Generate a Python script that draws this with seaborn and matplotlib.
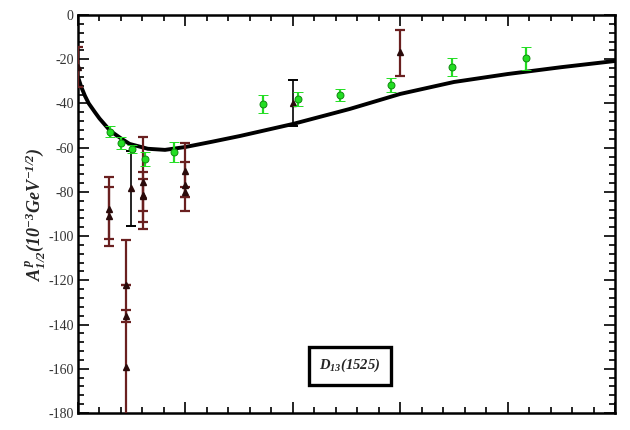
import matplotlib
matplotlib.use("Agg")
import matplotlib.pyplot as plt
import seaborn as sns
import pandas as pd
from matplotlib.ticker import MultipleLocator, NullFormatter

# ---- data ----
curve_x = [0.0, 0.03, 0.065, 0.1, 0.158, 0.2, 0.30, 0.40, 0.48, 0.65, 0.81, 1.0, 1.25, 1.51, 2.0, 2.53, 3.0, 3.5, 4.0, 4.5, 5.0]
curve_y = [-28, -32.5, -36.6, -40, -44, -46.8, -52.4, -55.8, -58.3, -60.5, -61, -59.7, -57.3, -54.7, -49.3, -42.5, -35.7, -30.3, -26.7, -23.6, -20.8]

green_x = [0.298, 0.40, 0.503, 0.624, 0.894, 1.72, 2.05, 2.44, 2.91, 3.48, 4.17]
green_y = [-52.9, -57.9, -60.6, -65.1, -62.0, -40.3, -38.0, -36.2, -31.7, -23.5, -19.5]
green_err = [2.5, 2.5, 2.0, 3.0, 4.7, 4.0, 3.2, 2.7, 3.1, 4.0, 5.2]

red_x = [0.0, 0.289, 0.289, 0.447, 0.447, 0.447, 0.605, 0.605, 0.605, 0.996, 0.996, 0.996, 3.0]
red_y = [-23.5, -87.8, -90.9, -159.2, -136.1, -122.3, -75.5, -81.9, -81.5, -70.6, -76.9, -80.0, -16.9]
red_err_lo = [9.0, 13.5, 13.6, 57.0, 2.8, 0.0, 21.3, 11.7, 7.2, 18.1, 5.4, 2.3, 10.5]
red_err_hi = [9.0, 10.0, 17.6, 57.4, 2.8, 0.0, 20.3, 10.9, 7.3, 12.7, 10.4, 2.3, 10.1]

black_x = [0.493, 2.0]
black_y = [-78.3, -39.6]
black_err = [17.0, 10.4]

y_ticks = [0, -20, -40, -60, -80, -100, -120, -140, -160, -180]

# ---- style ----
sns.set_theme(style="ticks")
plt.rcParams['font.family'] = ['Liberation Serif', 'DejaVu Serif']
plt.rcParams['axes.unicode_minus'] = False
plt.rcParams['mathtext.fontset'] = 'custom'
plt.rcParams['mathtext.rm'] = 'Liberation Serif:bold:italic'
plt.rcParams['mathtext.it'] = 'Liberation Serif:bold:italic'
plt.rcParams['mathtext.bf'] = 'Liberation Serif:bold:italic'

fig = plt.figure(figsize=(6.3, 4.3), dpi=100)
ax = fig.add_axes([78/630, 1-413/430, (615-78)/630, (413-15)/430])

green = '#22dd22'
maroon = '#6a2020'

df = pd.DataFrame({'x': curve_x, 'y': curve_y})
sns.lineplot(data=df, x='x', y='y', ax=ax, color='black', lw=2.8,
             estimator=None, sort=False, zorder=3)

ax.errorbar(red_x, red_y, yerr=[red_err_lo, red_err_hi], fmt='^', ms=4,
            color='#2a0a0a', ecolor=maroon, elinewidth=1.6, capsize=3.5,
            capthick=1.6, zorder=4)
ax.errorbar(black_x, black_y, yerr=black_err, fmt='^', ms=4,
            color='#2a0a0a', ecolor='black', elinewidth=1.2, capsize=3.5,
            capthick=1.4, zorder=4)
ax.errorbar(green_x, green_y, yerr=green_err, fmt='o', ms=5,
            color=green, mec='#118811', mew=0.7, ecolor=green,
            elinewidth=1.6, capsize=3.5, capthick=1.8, zorder=5)

ax.set_xlim(0, 5)
ax.set_ylim(-180, 0)
ax.xaxis.set_major_locator(MultipleLocator(1))
ax.xaxis.set_minor_locator(MultipleLocator(0.2))
ax.set_yticks(y_ticks)
ax.yaxis.set_minor_locator(MultipleLocator(4))
ax.xaxis.set_major_formatter(NullFormatter())
ax.tick_params(which='both', direction='in', top=True, right=True, width=1.2, colors='black')
ax.tick_params(which='major', length=8)
ax.tick_params(which='minor', length=4.5)
ax.tick_params(axis='y', labelsize=10, pad=3, labelcolor='#333333')
for s in ax.spines.values():
    s.set_linewidth(1.8)
    s.set_color('black')

ax.set_xlabel('')
ax.set_ylabel(r'$A^{p}_{1/2}(10^{-3}GeV^{-1/2})$', fontsize=13, labelpad=1)

ax.text(2.53, -158.6, r'$D_{13}(1525)$', fontsize=10.5, ha='center', va='center',
        zorder=6,
        bbox=dict(boxstyle='square,pad=0.7', fc='white', ec='black', lw=2.4))

fig.savefig('out.png', dpi=100)
